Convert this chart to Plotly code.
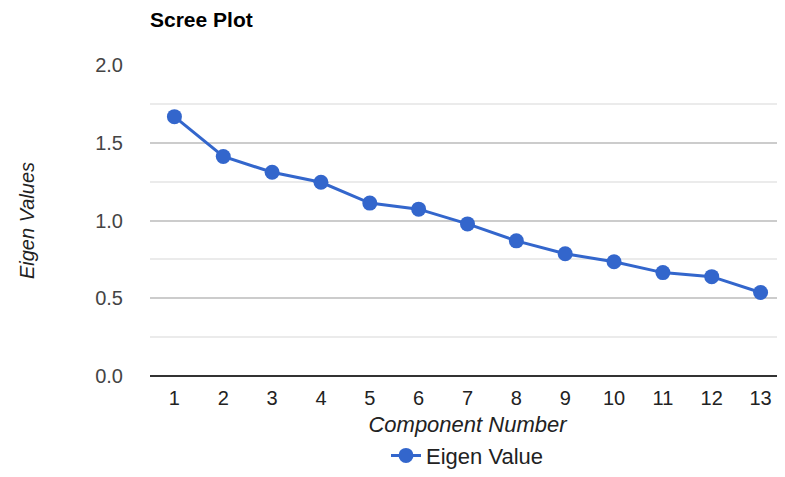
import plotly.graph_objects as go

components = [1, 2, 3, 4, 5, 6, 7, 8, 9, 10, 11, 12, 13]
eigen_values = [1.668, 1.412, 1.31, 1.246, 1.112, 1.073, 0.978, 0.869, 0.786, 0.735, 0.665, 0.639, 0.537]
y_ticks = [0.0, 0.5, 1.0, 1.5, 2.0]

BLUE = "#3366CC"
FONT = "Liberation Sans, Arial, sans-serif"

fig = go.Figure()
fig.add_trace(go.Scatter(
    x=components, y=eigen_values, mode="lines+markers", name="Eigen Value",
    line=dict(color=BLUE, width=3),
    marker=dict(color=BLUE, size=15),
))

fig.update_layout(
    width=785, height=477,
    margin=dict(l=142, r=8, t=57, b=107),
    paper_bgcolor="white", plot_bgcolor="white",
    font=dict(family=FONT, size=20, color="#444"),
    title=dict(text="<b>Scree Plot</b>", x=142/785, xanchor="left", y=1 - 12/477, yanchor="middle",
               font=dict(family=FONT, size=21, color="#000")),
    showlegend=True,
    legend=dict(orientation="h", x=0.5, xanchor="center", y=-0.256, yanchor="middle",
                font=dict(family=FONT, size=22, color="#222")),
    xaxis=dict(range=[0.5, 13.5], tickmode="array", tickvals=components,
               ticktext=[str(c) for c in components], showgrid=False, zeroline=False,
               showline=False, ticks="", tickfont=dict(size=20, color="#222"),
               ticklabelstandoff=8,
               title=dict(text="<i>Component Number</i>", standoff=8,
                          font=dict(family=FONT, size=22, color="#222"))),
    yaxis=dict(range=[0, 2.0], tickmode="array", tickvals=y_ticks,
               ticktext=["0.0", "0.5", "1.0", "1.5", "2.0"],
               showgrid=True, gridcolor="#cccccc", gridwidth=1.5,
               minor=dict(dtick=0.25, showgrid=True, gridcolor="#ebebeb", gridwidth=1.5),
               zeroline=True, zerolinecolor="#333333", zerolinewidth=2,
               ticks="", tickfont=dict(size=20, color="#444"), ticklabelstandoff=26,
               title=dict(text="<i>Eigen Values</i>", standoff=55,
                          font=dict(family=FONT, size=20, color="#222"))),
)

fig.write_html("out.html")
